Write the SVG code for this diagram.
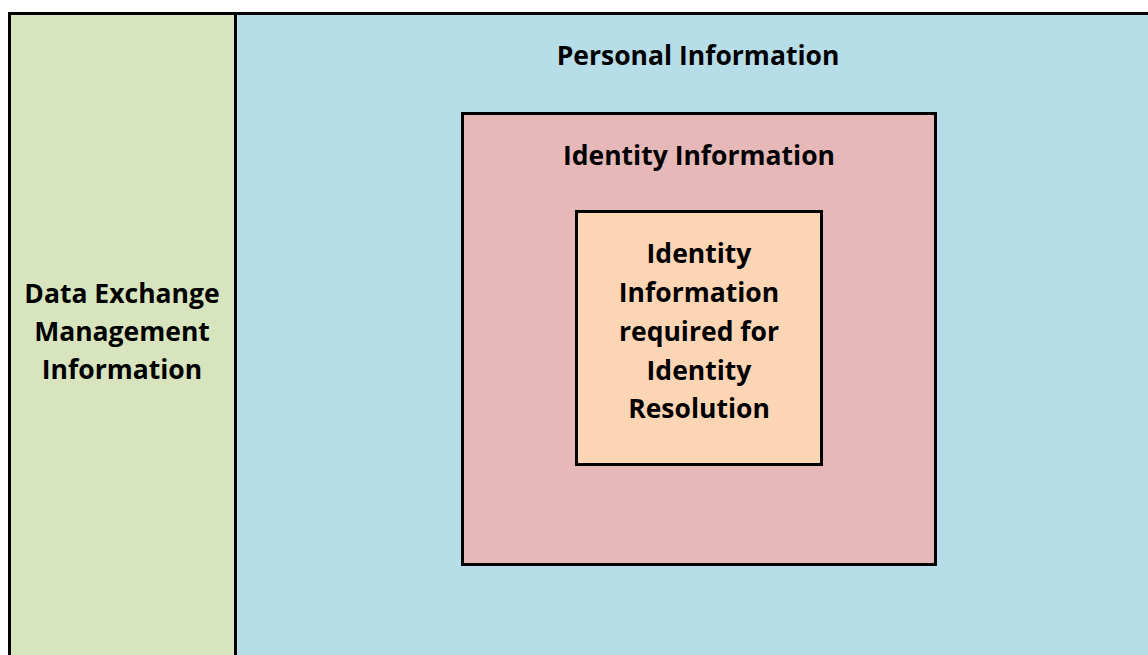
<svg xmlns="http://www.w3.org/2000/svg" width="1148" height="655" viewBox="0 0 1148 655">
<style>
.b{stroke:#000;stroke-width:3}
text{font-family:"Open Sans","Liberation Sans",sans-serif;font-weight:bold;font-size:26.5px;fill:#000;text-anchor:middle}
</style>
<rect width="1148" height="655" fill="#fff"/>
<g id="personal">
<rect class="b" x="235.5" y="13.5" width="920" height="660" fill="#B7DEE8"/>
<text x="698" y="65">Personal Information</text>
</g>
<g id="dem">
<rect class="b" x="9.5" y="13.5" width="226" height="660" fill="#D7E4BD"/>
<text x="122" y="303">Data Exchange</text>
<text x="122" y="341">Management</text>
<text x="122" y="379">Information</text>
</g>
<g id="identity">
<rect class="b" x="462.5" y="113.5" width="473" height="451" fill="#E6B9B8"/>
<text x="699" y="165">Identity Information</text>
</g>
<g id="resolution">
<rect class="b" x="576.5" y="211.5" width="245" height="253" fill="#FCD5B5"/>
<text x="699" y="263">Identity</text>
<text x="699" y="302">Information</text>
<text x="699" y="341">required for</text>
<text x="699" y="380">Identity</text>
<text x="699" y="418">Resolution</text>
</g>
<g id="connectors"/>
</svg>
